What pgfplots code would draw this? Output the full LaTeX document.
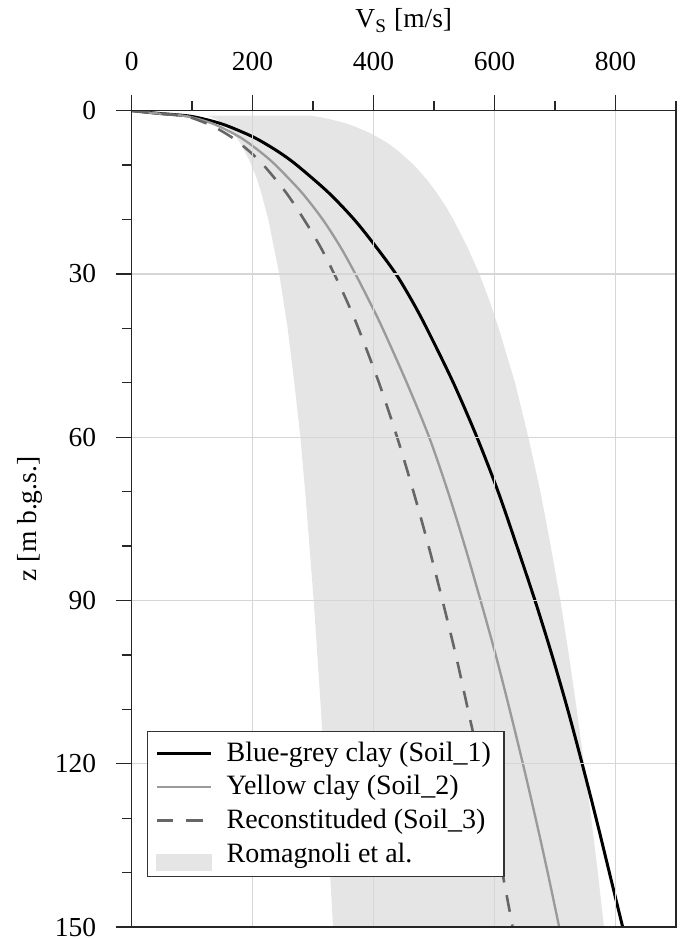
\documentclass[border=0pt]{standalone}
\usepackage{fontspec}
\setmainfont{Liberation Serif}
\usepackage{pgfplots}
\pgfplotsset{compat=1.18}
\definecolor{bandgrey}{HTML}{E5E5E5}
\definecolor{midgrey}{HTML}{9A9A9A}
\definecolor{dashgrey}{HTML}{666666}
\definecolor{gridgrey}{HTML}{D6D6D6}
\newcommand{\lblfont}{\fontsize{10.6}{12}\selectfont}

\begin{document}
\begin{tikzpicture}
\useasboundingbox (-50.8pt,-4.6pt) rectangle (212pt,357.7pt);
\begin{axis}[
  at={(0,0)}, anchor=south west,
  scale only axis, width=210pt, height=315pt,
  xmin=0, xmax=900, ymin=0, ymax=150, y dir=reverse,
  xtick={0,200,...,800}, minor xtick={100,300,...,900},
  ytick={0,30,...,150}, minor ytick={10,20,40,50,70,80,100,110,130,140},
  xtick pos=upper, xticklabel pos=upper, ytick pos=left,
  tick align=outside, axis on top,
  major tick length=6.2pt, minor tick length=3.8pt,
  xmajorgrids, ymajorgrids,
  grid style={gridgrey, line width=0.5pt},
  axis line style={black!85, line width=0.5pt},
  tick style={black!85, line width=0.5pt},
  /pgf/number format/assume math mode=true,
  tick label style={font=\lblfont},
  xticklabel style={yshift=5.5pt},
  yticklabel style={xshift=-4pt},
  label style={font=\lblfont},
  xlabel={V\textsubscript{S} [m/s]},
  ylabel={z [m b.g.s.]},
  xlabel style={at={(axis description cs:0.5,1.1016)}, anchor=base},
  ylabel style={at={(axis description cs:-0.1743,0.5)}, anchor=base},
  legend style={at={(0.0275,0.0612)}, anchor=south west, draw=black!80,
    line width=0.5pt, font=\fontsize{10.8}{12}\selectfont, row sep=0pt},
  legend cell align=left,
  legend image code/.code={\draw[#1] (0cm,0cm) -- (0.74cm,0cm); \path (0.86cm,0cm);},
]
% Romagnoli et al. band: upper bound going down, lower bound coming back up
\addplot[fill=bandgrey, draw=none, forget plot] coordinates {
  (295,0.9)(312,1.2)(329,1.6)(344,2)(359,2.5)(371,3)(392,4)(409,5)(424,6)
  (442,7.5)(457,9)(467,10)(487,12.5)(504,15)(519,17.5)(532,20)(555,25)(575,30)
  (592,35)(607,40)(634,50)(656,60)(676,70)(693,80)(709,90)(723,100)(736,110)
  (748,120)(760,130)(771,140)(781,150)
  (333,150)(328,140)(323,130)(318,120)(313,110)(307,100)(301,90)(294,80)
  (287,70)(279,60)(269,50)(258,40)(251,35)(244,30)(235,25)(226,20)(220,17.5)
  (214,15)(207,12.5)(198,10)(194,9)(187,7.5)(180,6)(174,5)(166,4)(157,3)
  (152,2.5)(146,2)(140,1.6)(132,1.2)(125,0.9)
};
\addplot[black, line width=1.15pt, smooth] coordinates {
  (0,0)(45,0.5)(96,1)(136,2)(163,3)(204,5)(242,7.5)(273,10)(325,15)(368,20)
  (404,25)(437,30)(464,35)(488,40)(532,50)(571,60)(606,70)(637,80)(667,90)
  (695,100)(721,110)(745,120)(768,130)(790,140)(812,150)
};
\addlegendentry{Blue-grey clay (Soil\_1)}
\addplot[midgrey, line width=0.9pt, smooth] coordinates {
  (0,0)(42,0.5)(90,1)(124,2)(147,3)(181,5)(212,7.5)(238,10)(281,15)(316,20)
  (345,25)(370,30)(393,35)(415,40)(455,50)(492,60)(523,70)(551,80)(577,90)
  (602,100)(625,110)(647,120)(668,130)(688,140)(707,150)
};
\addlegendentry{Yellow clay (Soil\_2)}
\addplot[dashgrey, line width=1pt, dash pattern=on 6.5pt off 5pt, smooth] coordinates {
  (0,0)(45,0.5)(89,1)(116,2)(137,3)(167,5)(195,7.5)(218,10)(255,15)(285,20)
  (312,25)(335,30)(356,35)(375,40)(409,50)(439,60)(466,70)(491,80)(514,90)
  (536,100)(556,110)(576,120)(595,130)(613,140)(630,150)
};
\addlegendentry{Reconstituded (Soil\_3)}
\addlegendimage{legend image code/.code={\fill[bandgrey] (0cm,-6.1pt) rectangle (0.74cm,-0.1pt); \path (0.86cm,0cm);}}
\addlegendentry{Romagnoli et al.}
\end{axis}
\end{tikzpicture}
\end{document}
